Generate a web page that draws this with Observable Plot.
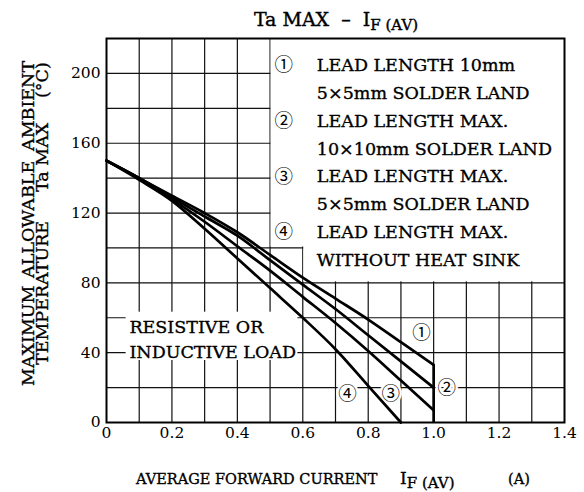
<!DOCTYPE html>
<html><head><meta charset="utf-8">
<script src="https://cdn.jsdelivr.net/npm/d3@7"></script>
<script src="https://cdn.jsdelivr.net/npm/@observablehq/plot@0.6"></script>
<style>
body{margin:0;background:#fff;}
svg text{white-space:pre;}
</style></head><body><div id="chart"></div>
<script>
// ---- data ----
const currentA = [0, 0.1, 0.2, 0.3, 0.4, 0.5, 0.6, 0.7, 0.8, 0.9, 1.0];
const taMax1 = [150, 140, 130, 120, 109, 96, 83, 71, 59, 46, 33];
const taMax2 = [150, 140, 129, 118, 107, 93, 79, 65, 50, 35, 20];
const taMax3 = [150, 140, 128, 115, 101, 87, 72, 57, 41, 24, 7];
const currentA4 = [0, 0.1, 0.2, 0.3, 0.4, 0.5, 0.6, 0.7, 0.8, 0.9];
const taMax4 = [150, 139, 127, 111, 94, 77, 60, 42, 21, 0];
const cutoffCurrent = 1.0;

const xTicks = [0, 0.2, 0.4, 0.6, 0.8, 1.0, 1.2, 1.4];
const yTicks = [0, 40, 80, 120, 160, 200];
const xGrid = [0.1, 0.2, 0.3, 0.4, 0.5, 0.6, 0.7, 0.8, 0.9, 1.0, 1.1, 1.2, 1.3];
const yGrid = [20, 40, 60, 80, 100, 120, 140, 160, 180, 200];

const curveNames = ["①", "②", "③", "④"];
const legendLines = [
  ["LEAD LENGTH 10mm", "5×5mm SOLDER LAND"],
  ["LEAD LENGTH MAX.", "10×10mm SOLDER LAND"],
  ["LEAD LENGTH MAX.", "5×5mm SOLDER LAND"],
  ["LEAD LENGTH MAX.", "WITHOUT HEAT SINK"]
];
const loadLines = ["RESISTIVE OR", "INDUCTIVE LOAD"];

// ---- layout (data-space annotation anchors) ----
const legendX = 0.542, legendTextX = 0.643, legendTop = 204.6, legendStep = 15.95;
const curveLabelPos = [[0.963, 51], [1.04, 20], [0.869, 16], [0.737, 16]];
const loadX = 0.07, loadY = [54.6, 40.3];

const rows = [];
[[currentA, taMax1], [currentA, taMax2], [currentA, taMax3], [currentA4, taMax4]].forEach(([xs, ys], i) => {
  xs.forEach((x, j) => rows.push({x, y: ys[j], c: curveNames[i]}));
});

const legendRows = [];
legendLines.forEach((pair, i) => {
  pair.forEach((t, k) => legendRows.push({x: legendTextX, y: legendTop - (i * 2 + k) * legendStep, t}));
});
const legendNums = curveNames.map((t, i) => ({x: legendX, y: legendTop - i * 2 * legendStep, t}));
const curveLabels = curveNames.map((t, i) => ({x: curveLabelPos[i][0], y: curveLabelPos[i][1], t}));
const loadRows = loadLines.map((t, i) => ({x: loadX, y: loadY[i], t}));

const serif = '"DejaVu Serif", serif';
const circ = '"Noto Sans CJK JP", "Noto Sans CJK SC", sans-serif';
const ink = {stroke: "black", strokeWidth: 0.35};

const plot = Plot.plot({
  width: 584, height: 492,
  marginLeft: 106, marginRight: 20, marginTop: 38, marginBottom: 70,
  x: {domain: [0, 1.4]},
  y: {domain: [0, 220]},
  style: {fontFamily: serif, fontSize: "15px", color: "#000", background: "#fff"},
  marks: [
    Plot.ruleX(xGrid, {stroke: "#111", strokeWidth: 1.2}),
    Plot.ruleY(yGrid, {stroke: "#111", strokeWidth: 1.2}),
    // white areas behind legend & annotation
    Plot.rect([{x1: 0.5, x2: 1.4, y1: 100, y2: 220}], {x1: "x1", x2: "x2", y1: "y1", y2: "y2", fill: "white", insetLeft: 1, insetBottom: 1}),
    Plot.rect([{x1: 0.6, x2: 1.4, y1: 80, y2: 220}], {x1: "x1", x2: "x2", y1: "y1", y2: "y2", fill: "white", insetLeft: 1, insetBottom: 1}),
    Plot.rect([{x1: 0.06, x2: 0.585, y1: 35.5, y2: 63.2}], {x1: "x1", x2: "x2", y1: "y1", y2: "y2", fill: "white"}),
    Plot.text(curveLabels, {x: "x", y: "y", text: "t", fontFamily: circ, fontSize: 18.5, fill: "black", stroke: "white", strokeWidth: 5, paintOrder: "stroke"}),
    Plot.text(legendNums, {x: "x", y: "y", text: "t", fontFamily: circ, fontSize: 18.5, fill: "black"}),
    Plot.text(legendRows, {x: "x", y: "y", text: "t", textAnchor: "start", fontFamily: serif, fontSize: 17.5, fill: "black", ...ink}),
    Plot.text(loadRows, {x: "x", y: "y", text: "t", textAnchor: "start", fontFamily: serif, fontSize: 17.5, fill: "black", ...ink}),
    Plot.line(rows, {x: "x", y: "y", z: "c", stroke: "black", strokeWidth: 2.7, curve: "monotone-x"}),
    Plot.ruleX([cutoffCurrent], {y1: 0, y2: taMax1[taMax1.length - 1], stroke: "black", strokeWidth: 2.7}),
    Plot.axisX(xTicks, {tickSize: 0, tickPadding: 4, tickFormat: d => d === 0 ? "0" : d.toFixed(1), label: null, fontSize: 15.5, ...ink}),
    Plot.axisY(yTicks, {tickSize: 0, tickPadding: 6, label: null, fontSize: 15.5, ...ink}),
    Plot.frame({stroke: "black", strokeWidth: 2})
  ]
});
document.getElementById("chart").appendChild(plot);

const svg = d3.select(plot);
// title
const title = svg.append("text").attr("x", 336).attr("y", 26).attr("text-anchor", "middle")
  .attr("font-family", serif).attr("font-size", 19).attr("fill", "black").attr("stroke", "black").attr("stroke-width", 0.4);
title.append("tspan").text("Ta MAX  –  I");
title.append("tspan").attr("dy", 4).attr("font-size", 15).text("F (AV)");

// x label
const xl = svg.append("g").attr("font-family", serif).attr("font-size", 14.5).attr("fill", "black")
  .attr("stroke", "black").attr("stroke-width", 0.35).attr("text-anchor", "start");
xl.append("text").attr("x", 136).attr("y", 484).text("AVERAGE FORWARD CURRENT");
const xl2 = xl.append("text").attr("x", 400).attr("y", 484);
xl2.append("tspan").attr("font-size", 17).text("I");
xl2.append("tspan").attr("dy", 4).attr("font-size", 15).text("F (AV)");
xl.append("text").attr("x", 508).attr("y", 484).text("(A)");

// y label (two rotated lines)
const yl = svg.append("g").attr("font-family", serif).attr("font-size", 17.5).attr("fill", "black")
  .attr("stroke", "black").attr("stroke-width", 0.35).attr("text-anchor", "start");
const yWords = [
  [33.5, 386, "MAXIMUM"], [33.5, 278, "ALLOWABLE"], [33.5, 151, "AMBIENT"],
  [48, 365, "TEMPERATURE"], [48, 192, "Ta MAX"], [48, 98, "(°C)"]
];
yWords.forEach(([x, y, t]) => {
  yl.append("text").attr("transform", `translate(${x},${y}) rotate(-90)`).text(t);
});
</script></body></html>
